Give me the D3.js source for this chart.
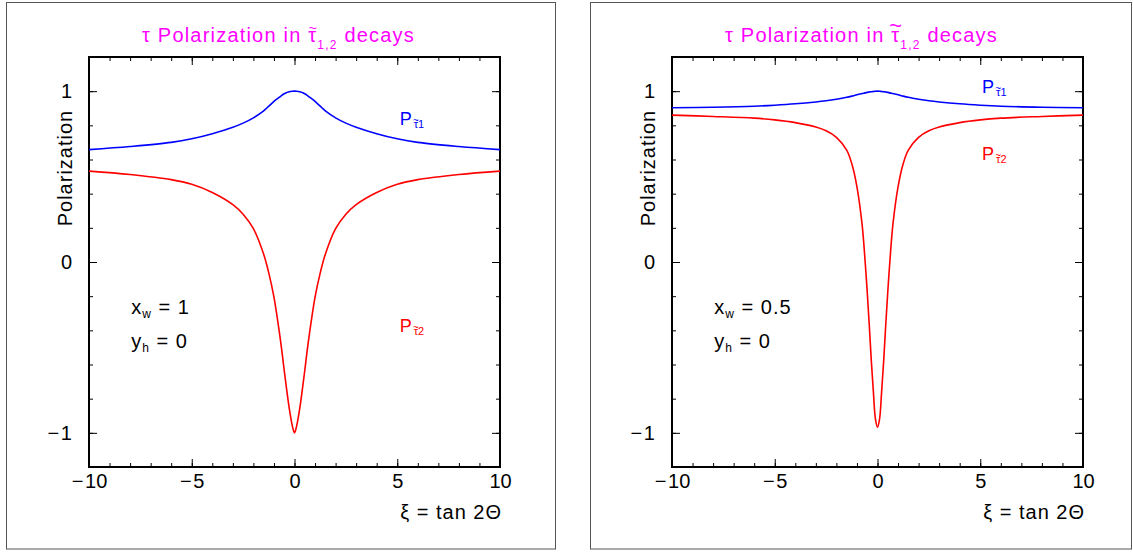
<!DOCTYPE html>
<html>
<head>
<meta charset="utf-8">
<script src="https://cdn.jsdelivr.net/npm/d3@7"></script>
<style>
  body { margin: 0; background: #fff; }
  text { font-family: "Liberation Sans", Arial, Helvetica, sans-serif; }
</style>
</head>
<body>
<svg id="chart" width="1133" height="554"></svg>
<script>
// xi = tan 2Theta
var xi = [-10, -8, -6, -5, -4, -3, -2.5, -2, -1.5, -1.25, -1, -0.75, -0.6, -0.5, -0.4, -0.3, -0.2, -0.1,
          0, 0.1, 0.2, 0.3, 0.4, 0.5, 0.6, 0.75, 1, 1.25, 1.5, 2, 2.5, 3, 4, 5, 6, 8, 10];

// left panel: x_w = 1
var leftP1 = [0.658, 0.676, 0.700, 0.721, 0.751, 0.789, 0.813, 0.844, 0.885, 0.912, 0.940, 0.963, 0.977, 0.985, 0.991, 0.995, 0.998, 0.9995,
              1.000, 0.9995, 0.998, 0.995, 0.991, 0.985, 0.977, 0.963, 0.940, 0.912, 0.885, 0.844, 0.813, 0.789, 0.751, 0.721, 0.700, 0.676, 0.658];
var leftP2 = [0.532, 0.512, 0.482, 0.455, 0.407, 0.336, 0.280, 0.195, 0.045, -0.065, -0.205, -0.400, -0.535, -0.635, -0.730, -0.820, -0.898, -0.962,
              -1.000, -0.962, -0.898, -0.820, -0.730, -0.635, -0.535, -0.400, -0.205, -0.065, 0.045, 0.195, 0.280, 0.336, 0.407, 0.455, 0.482, 0.512, 0.532];

// right panel: x_w = 0.5
var rightP1 = [0.903, 0.906, 0.912, 0.918, 0.926, 0.937, 0.944, 0.953, 0.964, 0.971, 0.979, 0.986, 0.990, 0.993, 0.995, 0.997, 0.998, 0.9995,
               1.000, 0.9995, 0.998, 0.997, 0.995, 0.993, 0.990, 0.986, 0.979, 0.971, 0.964, 0.953, 0.944, 0.937, 0.926, 0.918, 0.912, 0.906, 0.903];
var rightP2 = [0.860, 0.852, 0.842, 0.832, 0.816, 0.790, 0.768, 0.730, 0.655, 0.575, 0.440, 0.220, 0.000, -0.175, -0.370, -0.580, -0.760, -0.920,
               -0.967, -0.920, -0.760, -0.580, -0.370, -0.175, 0.000, 0.220, 0.440, 0.575, 0.655, 0.730, 0.768, 0.790, 0.816, 0.832, 0.842, 0.852, 0.860];

var xMajor = [-10, -5, 0, 5, 10];
var xMinor = d3.range(-10, 11, 1);
var yMajor = [-1, 0, 1];
var yMinor = d3.range(-12, 13, 2).map(d => d / 10);

var panels = [
  { left: 89,  right: 500,  frame: [6.5, 2.5, 549, 546.5],  p1: leftP1,  p2: leftP2,  xw: "1",
    p1pos: [5.12, 0.80], p2pos: [5.12, -0.407], tildeSize: 14 },
  { left: 672, right: 1083, frame: [590.5, 2.5, 541, 546.5], p1: rightP1, p2: rightP2, xw: "0.5",
    p1pos: [5.09, 0.988], p2pos: [5.09, 0.597], tildeSize: 22 }
];

var plotTop = 57, plotBottom = 467;
var svg = d3.select("#chart");

var fmt = d => d < 0 ? "\u2212\u200A" + (-d) : String(d);

// puts a "~" over character idx of a text element
function tildeOver(textSel, idx, size, color, lift) {
  var ext = textSel.node().getExtentOfChar(idx);
  svg.append("text")
      .attr("x", ext.x + ext.width / 2)
      .attr("y", ext.y + ext.height * lift)
      .attr("text-anchor", "middle")
      .attr("font-size", size).attr("fill", color)
      .text("~");
}

panels.forEach(function(p) {
  var x = d3.scaleLinear().domain([-10, 10]).range([p.left, p.right]);
  var y = d3.scaleLinear().domain([-1.2, 1.2]).range([plotBottom, plotTop]);

  svg.append("rect")
      .attr("x", p.frame[0]).attr("y", p.frame[1])
      .attr("width", p.frame[2]).attr("height", p.frame[3])
      .attr("fill", "none").attr("stroke", "#555").attr("stroke-width", 1);

  // ticks, all pointing into the plot
  var axes = [
    [d3.axisBottom(x).tickValues(xMinor), `translate(0,${plotBottom})`, 4],
    [d3.axisTop(x).tickValues(xMinor), `translate(0,${plotTop})`, 4],
    [d3.axisBottom(x).tickValues(xMajor), `translate(0,${plotBottom})`, 8],
    [d3.axisTop(x).tickValues(xMajor), `translate(0,${plotTop})`, 8],
    [d3.axisLeft(y).tickValues(yMinor), `translate(${p.left},0)`, 4],
    [d3.axisRight(y).tickValues(yMinor), `translate(${p.right},0)`, 4],
    [d3.axisLeft(y).tickValues(yMajor), `translate(${p.left},0)`, 8],
    [d3.axisRight(y).tickValues(yMajor), `translate(${p.right},0)`, 8]
  ];
  axes.forEach(function(a) {
    var g = svg.append("g").attr("transform", a[1])
        .call(a[0].tickSize(-a[2]).tickFormat(""));
    g.select(".domain").remove();
    g.selectAll("line").attr("stroke", "#000").attr("stroke-width", 1);
  });

  // tick labels
  var gx = svg.append("g").attr("transform", `translate(0,${plotBottom})`)
      .call(d3.axisBottom(x).tickValues(xMajor).tickSize(0).tickPadding(7).tickFormat(fmt));
  gx.select(".domain").remove();
  var gy = svg.append("g").attr("transform", `translate(${p.left},0)`)
      .call(d3.axisLeft(y).tickValues(yMajor).tickSize(0).tickPadding(17).tickFormat(fmt));
  gy.select(".domain").remove();
  svg.selectAll(".tick text")
      .attr("font-family", '"Liberation Sans", Arial, sans-serif')
      .attr("font-size", 20).attr("fill", "#000");

  svg.append("rect")
      .attr("x", p.left).attr("y", plotTop)
      .attr("width", p.right - p.left).attr("height", plotBottom - plotTop)
      .attr("fill", "none").attr("stroke", "#000").attr("stroke-width", 2);

  var line = d3.line()
      .x((d, i) => x(xi[i]))
      .y(d => y(d))
      .curve(d3.curveCatmullRom.alpha(0.5));

  svg.append("path").datum(p.p1)
      .attr("fill", "none").attr("stroke", "#0000ff").attr("stroke-width", 1.6)
      .attr("d", line);
  svg.append("path").datum(p.p2)
      .attr("fill", "none").attr("stroke", "#ff0000").attr("stroke-width", 1.6)
      .attr("d", line);

  // title
  var t = svg.append("text")
      .attr("x", p.left + 53).attr("y", 42)
      .attr("font-size", 20).attr("letter-spacing", 1.2).attr("fill", "#ff00ff");
  t.append("tspan").text("\u03C4 Polarization in \u03C4");
  t.append("tspan").attr("font-size", 12).attr("dy", 7).text("1,2");
  t.append("tspan").attr("dy", -7).text(" decays");
  tildeOver(t, 18, p.tildeSize, "#ff00ff", 0.42);

  // axis titles
  svg.append("text")
      .attr("transform", `translate(${p.left - 17},${y(0.55)}) rotate(-90)`)
      .attr("text-anchor", "middle")
      .attr("font-size", 20).attr("letter-spacing", 1).attr("fill", "#000")
      .text("Polarization");
  svg.append("text")
      .attr("x", p.right + 2).attr("y", 519)
      .attr("text-anchor", "end")
      .attr("font-size", 20).attr("letter-spacing", 1).attr("fill", "#000")
      .text("\u03BE = tan 2\u0398");

  // curve labels
  [[p.p1pos, "1", "#0000ff"], [p.p2pos, "2", "#ff0000"]].forEach(function(l) {
    var lt = svg.append("text")
        .attr("x", x(l[0][0])).attr("y", y(l[0][1]))
        .attr("font-size", 18).attr("fill", l[2]);
    lt.append("tspan").text("P");
    lt.append("tspan").attr("font-size", 11).attr("dx", 2).attr("dy", 3).text("\u03C4" + l[1]);
    tildeOver(lt, 1, 10, l[2], 0.5);
  });

  // parameters
  var a1 = svg.append("text")
      .attr("x", x(-7.94)).attr("y", y(-0.305))
      .attr("font-size", 20).attr("letter-spacing", 1).attr("fill", "#000");
  a1.append("tspan").text("x");
  a1.append("tspan").attr("font-size", 12).attr("dy", 4).text("w");
  a1.append("tspan").attr("dy", -4).text(" = " + p.xw);

  var a2 = svg.append("text")
      .attr("x", x(-7.94)).attr("y", y(-0.506))
      .attr("font-size", 20).attr("letter-spacing", 1).attr("fill", "#000");
  a2.append("tspan").text("y");
  a2.append("tspan").attr("font-size", 12).attr("dy", 4).text("h");
  a2.append("tspan").attr("dy", -4).text(" = 0");
});
</script>
</body>
</html>
